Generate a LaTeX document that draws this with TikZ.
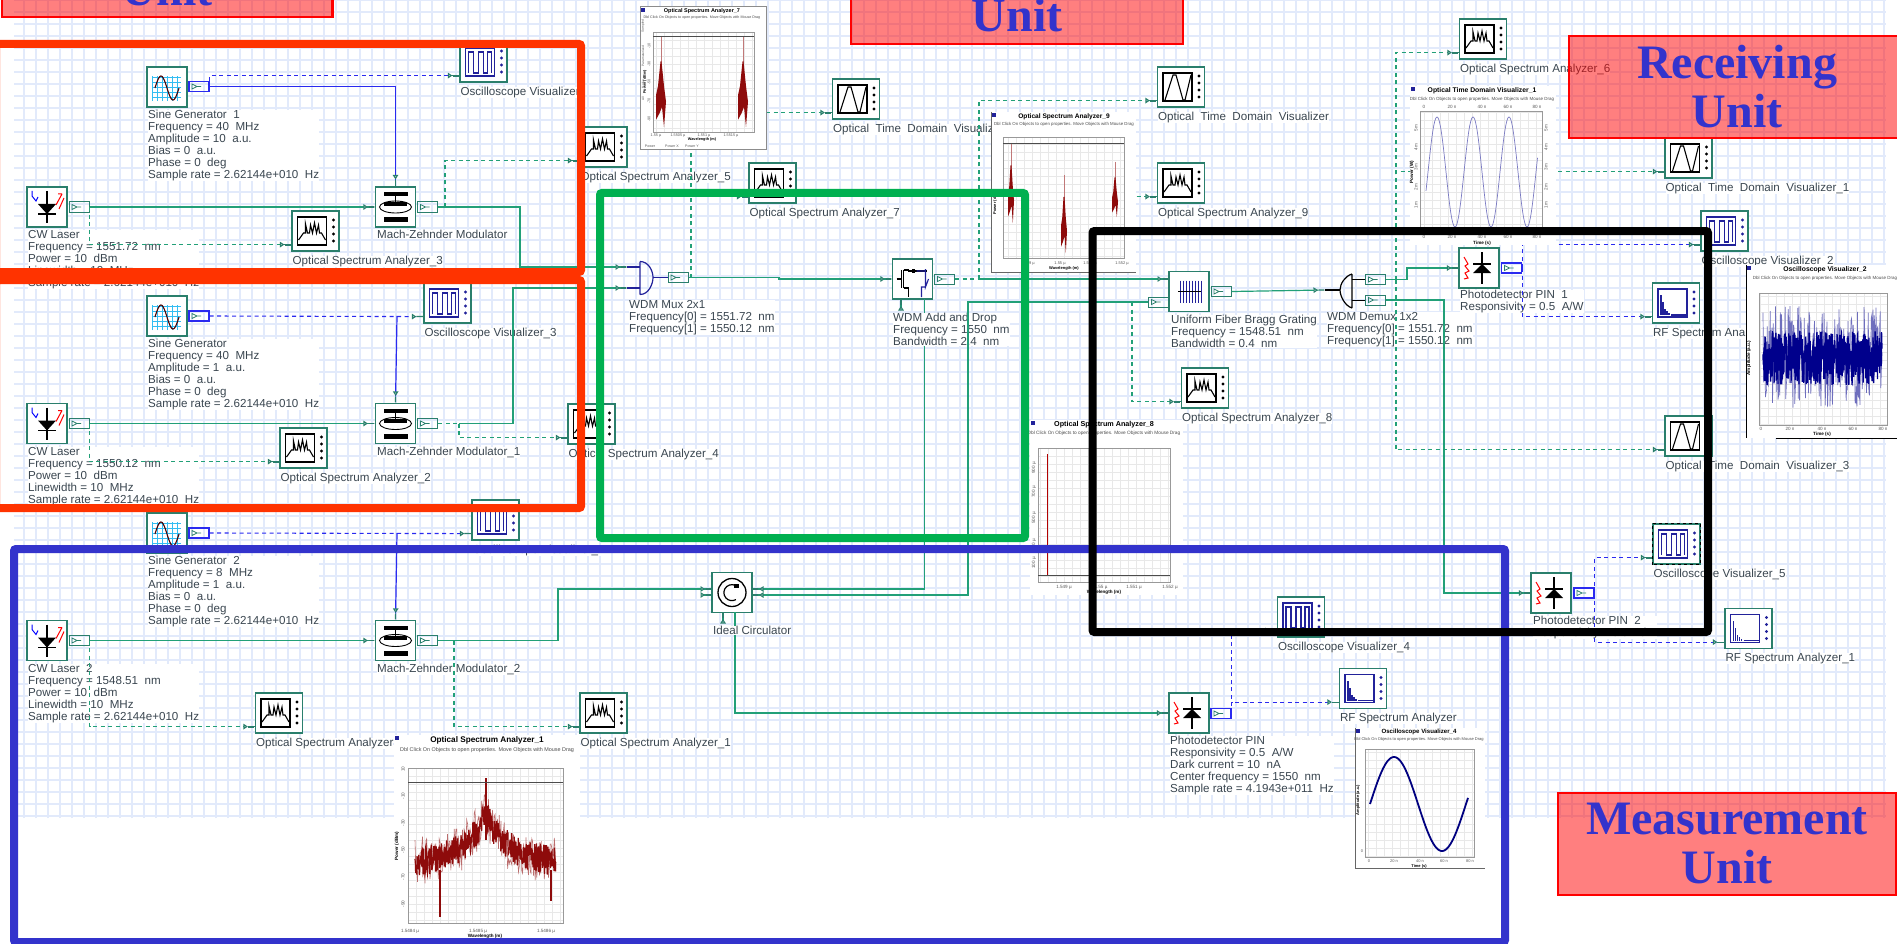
\documentclass[tikz,border=0pt]{standalone}
\usepackage{fontspec}
\setmainfont{Liberation Sans}
\newfontfamily\unitfont{Liberation Serif}
\usetikzlibrary{arrows.meta}
\definecolor{portcolor}{HTML}{2A7F6C}
\definecolor{sigcolor}{HTML}{22A078}
\definecolor{elecblue}{HTML}{2A2AF0}
\definecolor{iconblue}{HTML}{22229A}
\definecolor{labelgray}{HTML}{3A4650}
\definecolor{bggrid}{HTML}{E2EAFB}
\definecolor{specred}{HTML}{8E0B0B}
\definecolor{unitblue}{HTML}{3333CC}
\definecolor{redframe}{HTML}{FF3300}
\definecolor{greenframe}{HTML}{00B050}
\definecolor{blueframe}{HTML}{3333CC}
\tikzset{
  block/.style={draw=portcolor,line width=1.2pt,fill=white,minimum width=40pt,minimum height=40pt,inner sep=0pt},
  vizbox/.style={block,minimum width=47pt},
  portbox/.style={draw=portcolor,line width=1pt,minimum width=20pt,minimum height=10pt,inner sep=0pt,
    path picture={\draw[portcolor,line width=.7pt] ([xshift=3pt,yshift=2.5pt]path picture bounding box.west)
      -- ([xshift=8pt]path picture bounding box.west) -- ([xshift=3pt,yshift=-2.5pt]path picture bounding box.west) -- cycle
      ([xshift=8pt]path picture bounding box.west) -- ([xshift=12pt]path picture bounding box.west);}},
  blueport/.style={portbox,draw=elecblue,line width=1.2pt},
  lbl/.style={anchor=north west,inner sep=0pt,fill=white,align=left,text=labelgray,font=\fontsize{11.6}{12}\selectfont},
  optline/.style={draw=sigcolor,line width=1.2pt,->},
  opttap/.style={draw=sigcolor,line width=1.1pt,dash pattern=on 4pt off 3.5pt,->},
  elecline/.style={draw=elecblue,line width=1.2pt,->},
  electap/.style={draw=elecblue,line width=1.1pt,dash pattern=on 4pt off 3.5pt,->},
  unitbox/.style={draw=red,line width=2.5pt,fill=red,fill opacity=.5,text opacity=1,text=unitblue,align=center,inner sep=0pt,
    font=\unitfont\bfseries\fontsize{48}{49}\selectfont},
  frame/.style={line width=8pt,rounded corners=2pt},
  ticktext/.style={inner sep=0pt,text=black!65,font=\fontsize{4.6}{5}\selectfont},
  axistext/.style={inner sep=0pt,text=black,font=\bfseries\fontsize{4.6}{5}\selectfont},
  plotgrid/.style={draw=black!9,line width=.3pt},
  pics/scopeicon/.style={code={
    \draw[iconblue,line width=1.3pt] (-18,-14) rectangle (11,14);
    \draw[iconblue,line width=1.2pt] (-15,11) -- (-15,-10) -- (-10,-10) -- (-10,11) -- (-5,11) -- (-5,-10) -- (0,-10) -- (0,11) -- (4,11) -- (4,-10) -- (8,-10) -- (8,11);
    \foreach \y in {-11,-4,3,10} \fill[iconblue] (18,\y) circle (1.6);
  }},
  pics/spectrumicon/.style={code={
    \draw[black,line width=1.3pt] (-18,-14) rectangle (11,14);
    \draw[black,line width=1.1pt] (-17,9) -- (-12,2) -- (-10,2) -- (-10,-7) -- (-8,2) -- (-6,2) -- (-5,-6) -- (-3,2) -- (-1,-8) -- (1,2) -- (3,-6) -- (4,2) -- (6,2) -- (10,9);
    \foreach \y in {-11,-4,3,10} \fill[black] (18,\y) circle (1.6);
  }},
  pics/timeicon/.style={code={
    \draw[black,line width=1.3pt] (-18,-14) rectangle (11,14);
    \draw[black,line width=1.1pt] (-16,13) -- (-8,-12) -- (-5,-12) -- (2,13) -- (4,13) -- (10,-12);
    \foreach \y in {-11,-4,3,10} \fill[black] (18,\y) circle (1.6);
  }},
  pics/rficon/.style={code={
    \draw[iconblue,line width=1.3pt] (-18,-14) rectangle (11,14);
    \draw[iconblue,line width=1.1pt] (-15,12) -- (-15,-8) (-13,12) -- (-13,-1) (-11,12) -- (-11,6) (-9,12) -- (-9,8) (-7,12) -- (-7,10) (-5,12) -- (10,12);
    \foreach \y in {-11,-4,3,10} \fill[iconblue] (18,\y) circle (1.6);
  }},
  pics/sineicon/.style={code={
    \draw[cyan!80,line width=.9pt] (-15,-11) grid[step=5pt] (14,14);
    \draw[black!70!red,line width=1.1pt] plot[domain=-12:12,samples=30] (\x,{1-12*sin(15*(\x+12))});
  }},
  pics/lasericon/.style={code={
    \draw[black,line width=1.1pt] (0,-16) -- (0,16) (-9,7) -- (9,7);
    \fill[black] (-9,-3) -- (9,-3) -- (0,7) -- cycle;
    \draw[blue,line width=1pt] (-15,-16) -- (-15,-11) -- (-11,-6) -- (-9,-10);
    \draw[red,line width=1pt] (9,-2) -- (15,-13) (12,2) -- (17,-9) (11,-13) -- (15,-13);
  }},
  pics/pinicon/.style={code={
    \draw[black,line width=1.1pt] (3,-16) -- (3,16) (-6,-4) -- (12,-4);
    \fill[black] (-6,5) -- (12,5) -- (3,-4) -- cycle;
    \draw[red,line width=1pt] (-15,-11) -- (-11,-4) -- (-14,-2) -- (-10,3) -- (-14,5) -- (-11,10) -- (-15,11);
  }},
  pics/mzmicon/.style={code={
    \fill[black] (-12,-15) rectangle (12,-11);
    \fill[black] (-12,-5) rectangle (11,-1);
    \fill[black] (-12,10) rectangle (12,15);
    \draw[black,line width=.9pt] (0,-13) -- (0,-2);
    \draw[black,line width=.9pt] (0,0) ellipse (16 and 6);
  }},
  pics/fbgicon/.style={code={
    \foreach \x in {-9,-6,...,12} \draw[iconblue,line width=1pt] (\x,-11) -- (\x,11);
    \draw[black,line width=1pt] (-11,0) -- (12,0);
  }},
  pics/addicon/.style={code={
    \draw[black,line width=1.1pt] (-16,0) -- (-11,0) (-11,-9) -- (-11,9) (-9,-9) -- (-9,9) (-9,-9) -- (-4,-9) -- (-4,-8) -- (14,-8);
    \draw[black,line width=1.1pt] (-9,9) -- (-4,9) -- (-4,18);
    \fill[black] (-1,-10) rectangle (2,-6);
    \draw[iconblue,line width=1.1pt] (4,-8) -- (13,-8) (13,-10) -- (13,8) -- (16,0) (13,8) -- (9,8) -- (9,18);
  }},
  pics/circicon/.style={code={
    \draw[black,line width=1.3pt] (0,0) circle (14);
    \draw[black,line width=1.2pt] (6,-5) arc (-40:-300:8);
    \fill[black] (2,-9) rectangle (7,-5);
  }},
  pics/muxicon/.style={code={
    \draw[iconblue,line width=1.2pt] (-6,-16) -- (-6,17) (-6,-16) .. controls (3,-16) and (7,-6) .. (7,0) .. controls (7,6) and (3,17) .. (-6,17);
    \draw[iconblue,line width=1.2pt] (-19,-10.5) -- (-6,-10.5) (-19,10.5) -- (-6,10.5) (7,0) -- (22,0);
  }},
  pics/demuxicon/.style={code={
    \draw[black,line width=1.2pt] (12,-16) -- (12,18) (12,-16) .. controls (5,-14) and (0,-6) .. (0,0) .. controls (0,6) and (5,16) .. (12,18);
    \draw[black,line width=1.2pt] (-15,0) -- (0,0) (12,-10.5) -- (25,-10.5) (12,10.5) -- (25,10.5);
  }},
}
\begin{document}
\begin{tikzpicture}[x=1pt,y=-1pt,
  >={Triangle[length=4.5pt,width=5.5pt,color=portcolor,fill=white]Rectangle[length=7pt,width=1.2pt,color=portcolor]}]
  \useasboundingbox (0,0) rectangle (1897,944);
  \fill[white] (0,0) rectangle (1897,944);
  \draw[bggrid,line width=1.2pt] (14,0) grid[step=12pt] (1886,818);

  % source blocks
  \foreach \nm/\x/\y/\ico in {laser1/47/207/lasericon,laser2/47/423.5/lasericon,laser3/47/640.5/lasericon,
    mzm1/395.5/207/mzmicon,mzm2/395.5/423.5/mzmicon,mzm3/395.5/640.5/mzmicon,
    gen1/167/87/sineicon,gen2/167/316/sineicon,gen3/167/533/sineicon,
    adm/912.5/279/addicon,fbg/1189/291.5/fbgicon,circ/732/592.5/circicon,
    pin1/1479/268/pinicon,pin2/1551/593/pinicon,pin3/1189/713/pinicon}{
    \node[block] (\nm) at (\x,\y) {};
    \pic at (\nm) {\ico};
  }
  \foreach \nm/\x/\y in {laser1out/79/207,laser2out/79/423.5,laser3out/79/640.5,
    mzm1out/427.5/207,mzm2out/427.5/423.5,mzm3out/427.5/640.5,
    muxout/678/277.5,admout/944.5/279,fbgout/1221/291.5,fbgrefl/1158.5/302,
    dmxout0/1375.5/279.5,dmxout1/1375.5/300}
    \node[portbox] (\nm) at (\x,\y) {};
  \foreach \nm/\x/\y in {gen1out/199/86.5,gen2out/199/316,gen3out/199/533,
    pin1out/1511.5/268,pin2out/1584/593,pin3out/1221/713.5}
    \node[blueport] (\nm) at (\x,\y) {};
  \node[inner sep=0pt,minimum size=1pt] (mux) at (646,277.5) {};
  \pic at (mux) {muxicon};
  \node[inner sep=0pt,minimum size=1pt] (demux) at (1340,290) {};
  \pic at (demux) {demuxicon};

  % visualizers
  \foreach \nm/\x/\y/\ico/\txt in {
    osc1/483.5/62/scopeicon/Oscilloscope Visualizer,
    osa5/603.5/147/spectrumicon/Optical Spectrum Analyzer\_5,
    osa3/315.5/231/spectrumicon/Optical Spectrum Analyzer\_3,
    osc3/447.5/303/scopeicon/Oscilloscope Visualizer\_3,
    osa2/303.5/448/spectrumicon/Optical Spectrum Analyzer\_2,
    osa4/591.5/424/spectrumicon/Optical Spectrum Analyzer\_4,
    osc6/495.5/520/scopeicon/Oscilloscope Visualizer\_1,
    osa0/279/713/spectrumicon/Optical Spectrum Analyzer,
    osa1/603.5/713/spectrumicon/Optical Spectrum Analyzer\_1,
    otdv0/856/99/timeicon/Optical~~Time~~Domain~~Visualizer,
    osa7/772.5/183/spectrumicon/Optical Spectrum Analyzer\_7,
    otdv2/1181/87/timeicon/Optical~~Time~~Domain~~Visualizer,
    osa9/1181/183/spectrumicon/Optical Spectrum Analyzer\_9,
    osa8/1205/388/spectrumicon/Optical Spectrum Analyzer\_8,
    osa6/1483/39/spectrumicon/Optical Spectrum Analyzer\_6,
    otdv1/1688.5/158/timeicon/Optical~~Time~~Domain~~Visualizer\_1,
    osc2/1724.5/231/scopeicon/Oscilloscope Visualizer\_2,
    rf2/1676/303/rficon/RF Spectrum Analyzer\_2,
    otdv3/1688.5/436/timeicon/Optical~~Time~~Domain~~Visualizer\_3,
    osc5/1676.5/544/scopeicon/Oscilloscope Visualizer\_5,
    rf1/1748.5/628.5/rficon/RF Spectrum Analyzer\_1,
    osc4/1301/617/scopeicon/Oscilloscope Visualizer\_4,
    rfm/1363/688.5/rficon/RF Spectrum Analyzer}{
    \node[vizbox] (\nm) at (\x,\y) {};
    \pic at (\nm) {\ico};
    \coordinate (\nm in) at ([yshift=7pt]\nm.south west);
    \node[lbl] (\nm lab) at ([xshift=1pt,yshift=-4pt]\nm.south west) {\txt};
  }
  \draw[black,line width=1.6pt,dashed] (osc5.south west) rectangle (osc5.north east);

  % parameter labels
  \node[lbl] (gen1lab) at (148,110) {Sine Generator~~1\\Frequency = 40~~MHz\\Amplitude = 10~~a.u.\\Bias = 0~~a.u.\\Phase = 0~~deg\\Sample rate = 2.62144e+010~~Hz};
  \node[lbl] (gen2lab) at (148,339) {Sine Generator\\Frequency = 40~~MHz\\Amplitude = 1~~a.u.\\Bias = 0~~a.u.\\Phase = 0~~deg\\Sample rate = 2.62144e+010~~Hz};
  \node[lbl] (gen3lab) at (148,556) {Sine Generator~~2\\Frequency = 8~~MHz\\Amplitude = 1~~a.u.\\Bias = 0~~a.u.\\Phase = 0~~deg\\Sample rate = 2.62144e+010~~Hz};
  \node[lbl] (laser1lab) at (28,230) {CW Laser\\Frequency = 1551.72~~nm\\Power = 10~~dBm\\Linewidth = 10~~MHz\\Sample rate = 2.62144e+010~~Hz};
  \node[lbl] (laser2lab) at (28,447) {CW Laser\\Frequency = 1550.12~~nm\\Power = 10~~dBm\\Linewidth = 10~~MHz\\Sample rate = 2.62144e+010~~Hz};
  \node[lbl] (laser3lab) at (28,664) {CW Laser~~2\\Frequency = 1548.51~~nm\\Power = 10~~dBm\\Linewidth = 10~~MHz\\Sample rate = 2.62144e+010~~Hz};
  \node[lbl] (mzm1lab) at (377,230) {Mach-Zehnder Modulator};
  \node[lbl] (mzm2lab) at (377,447) {Mach-Zehnder Modulator\_1};
  \node[lbl] (mzm3lab) at (377,664) {Mach-Zehnder Modulator\_2};
  \node[lbl] (muxlab) at (629,300) {WDM Mux 2x1\\Frequency[0] = 1551.72~~nm\\Frequency[1] = 1550.12~~nm};
  \node[lbl] (fbglab) at (1171,315) {Uniform Fiber Bragg Grating\\Frequency = 1548.51~~nm\\Bandwidth = 0.4~~nm};
  \node[lbl] (dmxlab) at (1327,312) {WDM Demux 1x2\\Frequency[0] = 1551.72~~nm\\Frequency[1] = 1550.12~~nm};
  \node[lbl] (pin1lab) at (1460,290) {Photodetector PIN~~1\\Responsivity = 0.5~~A/W};
  \node[lbl] (pin2lab) at (1533,616) {Photodetector PIN~~2\\Responsivity = 0.5~~A/W};
  \node[lbl] (pin3lab) at (1170,736) {Photodetector PIN\\Responsivity = 0.5~~A/W\\Dark current = 10~~nA\\Center frequency = 1550~~nm\\Sample rate = 4.1943e+011~~Hz};

  % junction points
  \coordinate (muxin0) at (627,267);
  \coordinate (muxin1) at (627,288);
  \coordinate (bend1) at (520,267);
  \coordinate (bend2) at (513,288);
  \coordinate (bend3) at (558,589);
  \coordinate (tapm1) at (445,207);
  \coordinate (tapm2) at (459,423.5);
  \coordinate (tapm3) at (454,640.5);
  \coordinate (tapmux) at (691,277.5);
  \coordinate (stepmux) at (779,279);
  \coordinate (tapadm) at (979,279);
  \coordinate (fbgin) at (1169,279);
  \coordinate (fbgtap) at (1132,302);
  \coordinate (dmxin) at (1325,290);
  \coordinate (tapdmx) at (1396,279.5);
  \coordinate (jog) at (1407,268);
  \coordinate (turn1) at (1444,300);
  \coordinate (tapg2) at (397,316);
  \coordinate (tapg3) at (397,533);
  \coordinate (circl0) at (712,589);
  \coordinate (circl1) at (712,595);
  \coordinate (circl1s) at (701,595);
  \coordinate (circr0) at (752,589);
  \coordinate (circr1) at (752,595);
  \coordinate (circb0) at (723,612);
  \coordinate (circb0s) at (723,621);
  \coordinate (circb1) at (735,612);
  \coordinate (addb0) at (901,299);
  \coordinate (addb0s) at (901,310);
  \coordinate (addb1) at (924.5,299);
  \coordinate (addturn) at (924.5,589);
  \coordinate (reflturn) at (968,302);
  \coordinate (reflcorner) at (968,595);

  % optical paths
  \draw[optline] (laser1out.east) -- (mzm1.west);
  \draw[optline] (laser2out.east) -- (mzm2.west);
  \draw[optline] (laser3out.east) -- (mzm3.west);
  \draw[opttap] (laser1out.east) |- (osa3in);
  \draw[opttap] (laser2out.east) |- (osa2in);
  \draw[opttap] (laser3out.east) |- (osa0in);
  \draw[optline] (mzm1out.east) -| (bend1) -- (muxin0);
  \draw[opttap] (tapm1) |- (osa5in);
  \draw[opttap,-] (mzm2out.east) -- (tapm2);
  \draw[optline] (tapm2) -| (bend2) -- (muxin1);
  \draw[opttap] (tapm2) |- (osa4in);
  \draw[optline] (mzm3out.east) -| (bend3) -- (circl0);
  \draw[opttap] (tapm3) |- (osa1in);
  \draw[optline] (circl1s) -- (circl1);
  \draw[optline] (circb0s) -- (circb0);
  \draw[optline] (addb0s) -- (addb0);
  \draw[optline] (muxout.east) -| (stepmux) -- (adm.west);
  \draw[opttap] (tapmux) |- (otdv0in);
  \draw[opttap] (tapmux) |- (osa7in);
  \draw[opttap,-] (admout.east) -- (tapadm);
  \draw[opttap] (tapadm) |- (otdv2in);
  \draw[opttap] (tapadm) |- (osa9in);
  \draw[optline] (tapadm) -- (fbgin);
  \draw[opttap] (fbgtap) |- (osa8in);
  \draw[optline] (fbgout.east) -- (dmxin);
  \draw[optline] (dmxout0.east) -| (jog) -- (pin1.west);
  \draw[optline] (dmxout1.east) -- (turn1) |- (pin2.west);
  \draw[opttap] (tapdmx) |- (osa6in);
  \draw[opttap] (tapdmx) |- (otdv1in);
  \draw[opttap] (tapdmx) |- (otdv3in);
  \draw[optline] (addb1) -- (addturn) -- (circr0);
  \draw[optline] (circb1) |- (pin3.west);

  % electrical paths
  \draw[electap] (gen1out.north east) |- (osc1in);
  \draw[elecline] (gen1out.east) -| (mzm1.north);
  \draw[electap] (gen2out.east) -- (osc3in);
  \draw[elecline] (tapg2) -- (mzm2.north);
  \draw[electap] (gen3out.east) -- (osc6in);
  \draw[elecline] (tapg3) -- (mzm3.north);
  \draw[electap] (pin1out.east) |- (osc2in);
  \draw[electap] (pin1out.east) |- (rf2in);
  \draw[electap] (pin2out.east) |- (osc5in);
  \draw[electap] (pin2out.east) |- (rf1in);
  \draw[electap] (pin3out.east) |- (rfmin);
  \draw[electap] (pin3out.east) |- (osc4in);

  % these two labels sit over their lines
  \node[lbl] (admlab) at (893,313) {WDM Add and Drop\\Frequency = 1550~~nm\\Bandwidth = 2.4~~nm};
  \node[lbl] (circlab) at (713,626) {Ideal Circulator};
  \draw[optline] (fbgrefl.west) -- (reflturn) -- (reflcorner) -- (circr1);

  % result windows
  \foreach \nm/\xa/\ya/\xb/\yb/\axa/\aya/\axb/\ayb/\tf/\tcx/\ttl in {
    osaplot1/394/735/580/938/408/768/563/923/8.2/487/Optical Spectrum Analyzer\_1,
    osaplot7/640/7/766/150/653/32/754/132/5.5/702/Optical Spectrum Analyzer\_7,
    osaplot9/991/112/1136/272/1003/137/1124/258/6.6/1064/Optical Spectrum Analyzer\_9,
    osaplot8/1030/420/1183/595/1038/448/1170/582/7.2/1104/Optical Spectrum Analyzer\_8,
    timeplot1/1410/86/1556/245/1420/111/1542/228/6.8/1482/Optical Time Domain Visualizer\_1,
    oscplot2/1746/265/1897/438/1759/293/1887/425/6.8/1825/Oscilloscope Visualizer\_2,
    oscplot4/1355/728/1485/868/1365/749/1474/857/6.1/1419/Oscilloscope Visualizer\_4}{
    \fill[white] (\xa,\ya) rectangle (\xb,\yb);
    \draw[plotgrid] (\axa,\aya) grid[step=8pt] (\axb,\ayb);
    \draw[black!40,line width=.5pt] (\axa,\aya) rectangle (\axb,\ayb);
    \fill[iconblue] ({\xa+1},{\ya+1}) rectangle ({\xa+5},{\ya+5});
    \pgfmathsetmacro{\sf}{\tf*.66}
    \node[inner sep=0pt,font=\bfseries\fontsize{\tf}{\tf}\selectfont] (\nm title) at (\tcx,{\ya+\tf*.7}) {\ttl};
    \node[inner sep=0pt,text=black!70,font=\fontsize{\sf}{\sf}\selectfont] (\nm note) at (\tcx,{\ya+\tf*.7+\tf*1.2}) {Dbl Click On Objects to open properties. Move Objects with Mouse Drag};
  }
  \draw[black!45,line width=1pt] (640,7) rectangle (766,150);
  \draw[black,line width=.7pt] (1746,265) -- (1746,438) (1776,438) -- (1897,438);
  \draw[black!60,line width=.7pt] (1355,728) -- (1355,868) -- (1485,868);
  \draw[black!60,line width=.7pt] (991,112) -- (991,272) -- (1136,272);

  % spectrum one
  \pgfmathsetseed{4711}
  \draw[specred!60,line width=.6pt] plot[domain=415:556,samples=170] (\x,{863-48*exp(-abs(\x-486)/22)+24*rand});
  \draw[specred,line width=1.2pt] plot[domain=415:556,samples=420] (\x,{863-48*exp(-abs(\x-486)/22)+15*rand});
  \draw[specred,line width=1.1pt] (486,778) -- (486,840) (440,870) -- (440,917) (551,870) -- (551,901);
  \draw[black!70,line width=.6pt] (408,782) -- (563,782);
  \foreach \x/\txt [count=\i] in {410/1.5484 µ,478/1.5485 µ,546/1.5486 µ} \node[ticktext] (osa1x\i) at (\x,931) {\txt};
  \foreach \y/\txt [count=\i] in {769/10,796/-10,823/-30,850/-50,877/-70,904/-90} \node[ticktext,rotate=90] (osa1y\i) at (403,\y) {\txt};
  \node[axistext] (osa1xname) at (485,936) {Wavelength (m)};
  \node[axistext,rotate=90] (osa1yname) at (397,846) {Power (dBm)};

  % spectrum seven and nine
  \foreach \cx/\tp/\bt/\hw in {661/36/127/5,743/36/127/5,1011/143/223/3,1064/175/253/3,1115/162/217/3}{
    \draw[specred!55,line width=.6pt] (\cx,\tp) -- (\cx,{\tp+.4*(\bt-\tp)});
    \fill[specred] ({\cx-.5},{\tp+.28*(\bt-\tp)}) -- ({\cx+.5},{\tp+.28*(\bt-\tp)}) -- ({\cx+.6*\hw},{\tp+.55*(\bt-\tp)})
      -- ({\cx+\hw},{\tp+.72*(\bt-\tp)}) -- ({\cx+.6*\hw},\bt) -- ({\cx+.2*\hw},{\tp+.78*(\bt-\tp)}) -- ({\cx-.3*\hw},{\tp+.85*(\bt-\tp)})
      -- ({\cx-\hw},{\tp+.92*(\bt-\tp)}) -- ({\cx-\hw},{\tp+.65*(\bt-\tp)}) -- ({\cx-.6*\hw},{\tp+.55*(\bt-\tp)}) -- cycle;
  }
  \draw[black!70,line width=.6pt] (653,36) -- (754,36) (1003,143) -- (1124,143);
  \foreach \x/\txt [count=\i] in {656/1.55 µ,678/1.5505 µ,704/1.551 µ,731/1.5515 µ} \node[ticktext,font=\fontsize{3.8}{4}\selectfont] (osa7x\i) at (\x,136) {\txt};
  \foreach \y/\txt [count=\i] in {46/-10,64/-30,82/-50,101/-70,119/-90} \node[ticktext,rotate=90,font=\fontsize{3.8}{4}\selectfont] (osa7y\i) at (649,\y) {\txt};
  \node[axistext,font=\bfseries\fontsize{3.8}{4}\selectfont] (osa7xname) at (702,140) {Wavelength (m)};
  \node[axistext,rotate=90,font=\bfseries\fontsize{3.8}{4}\selectfont] (osa7yname) at (645,82) {Power (dBm)};
  \foreach \x/\txt [count=\i] in {650/Power,672/Power X,692/Power Y} \node[ticktext,font=\fontsize{3.6}{4}\selectfont] (osa7tab\i) at (\x,146) {\txt};
  \foreach \y/\txt [count=\i] in {26/Sampled,56/Parameterized,84/Noise,99/All} \node[ticktext,rotate=90,font=\fontsize{3.2}{4}\selectfont] (osa7side\i) at (643,\y) {\txt};
  \foreach \x/\txt [count=\i] in {1028/1.549 µ,1060/1.55 µ,1090/1.551 µ,1122/1.552 µ} \node[ticktext,font=\fontsize{4}{4}\selectfont] (osa9x\i) at (\x,264) {\txt};
  \node[axistext,font=\bfseries\fontsize{4}{4}\selectfont] (osa9xname) at (1064,268.5) {Wavelength (m)};
  \node[axistext,rotate=90,font=\bfseries\fontsize{4}{4}\selectfont] (osa9yname) at (995,202) {Power (dBm)};

  % spectrum eight
  \draw[red!70!black,line width=.6pt] (1047,454) -- (1047,575);
  \draw[black!70,line width=.6pt] (1038,575) -- (1170,575);
  \foreach \x/\txt [count=\i] in {1064/1.549 µ,1101/1.55 µ,1134/1.551 µ,1170/1.552 µ} \node[ticktext] (osa8x\i) at (\x,587) {\txt};
  \foreach \y/\txt [count=\i] in {468/900 µ,492/700 µ,518/500 µ,545/300 µ,563/100 µ} \node[ticktext,rotate=90] (osa8y\i) at (1034,\y) {\txt};
  \node[axistext] (osa8xname) at (1104,592) {Wavelength (m)};

  % time traces
  \draw[iconblue!60,line width=.7pt] plot[domain=1426:1537.5,samples=180] (\x,{172-55*sin(10*(\x-1428))});
  \foreach \x/\txt [count=\i] in {1424/0,1452/20 n,1482/40 n,1508/60 n,1537/80 n}{
    \node[ticktext] (timex\i) at (\x,107) {\txt};
    \node[ticktext] (timeb\i) at (\x,237) {\txt};
  }
  \foreach \y/\txt [count=\i] in {128/5 m,147/4 m,167/3 m,187/2 m,205/1 m}{
    \node[ticktext,rotate=90] (timel\i) at (1416,\y) {\txt};
    \node[ticktext,rotate=90] (timer\i) at (1546,\y) {\txt};
  }
  \node[axistext] (timexname) at (1482,243) {Time (s)};
  \node[axistext,rotate=90] (timeyname) at (1412,172) {Power (W)};

  \pgfmathsetseed{902}
  \draw[iconblue!65,line width=.7pt] plot[domain=1763:1882,samples=200] (\x,{358+52*rand});
  \draw[blue!55!black,line width=1.3pt] plot[domain=1763:1882,samples=520] (\x,{358+27*rand});
  \foreach \x/\txt [count=\i] in {1761/0,1790/20 n,1822/40 n,1853/60 n,1883/80 n} \node[ticktext] (oscbx\i) at (\x,429) {\txt};
  \node[axistext] (oscbxname) at (1822,434) {Time (s)};
  \node[axistext,rotate=90] (oscbyname) at (1749,358) {Amplitude (a.u.)};

  \draw[blue!50!black,line width=1.8pt] plot[domain=1370:1468,samples=120] (\x,{804-47*sin(3.75*(\x-1370))});
  \foreach \x/\txt [count=\i] in {1369/0,1394/20 n,1420/40 n,1444/60 n,1470/80 n} \node[ticktext,font=\fontsize{4}{4}\selectfont] (oscdx\i) at (\x,861) {\txt};
  \node[ticktext,font=\fontsize{4}{4}\selectfont] (oscdy) at (1362,851) {0};
  \node[axistext,font=\bfseries\fontsize{4}{4}\selectfont] (oscdxname) at (1419,866) {Time (s)};
  \node[axistext,rotate=90,font=\bfseries\fontsize{4}{4}\selectfont] (oscdyname) at (1358,800) {Amplitude (a.u.)};

  % unit frames
  \draw[redframe,frame] (-4,44) rectangle (581,272);
  \draw[redframe,frame] (-4,280) rectangle (581,508);
  \draw[greenframe,frame] (600,193) rectangle (1025,538);
  \draw[blueframe,frame] (14,549) rectangle (1505,942);
  \draw[black,frame] (1092.5,231) rectangle (1708,632);

  \node[unitbox,minimum width=330.5pt,minimum height=56pt] (unitleft) at (167,-11) {Unit};
  \node[unitbox,minimum width=332pt,minimum height=57pt] (unitmid) at (1017,15.5) {Unit};
  \node[unitbox,minimum width=336pt,minimum height=102pt] (unitrecv) at (1737,87) {Receiving\\Unit};
  \node[unitbox,minimum width=338pt,minimum height=102pt] (unitmeas) at (1727,844) {Measurement\\Unit};
\end{tikzpicture}
\end{document}
